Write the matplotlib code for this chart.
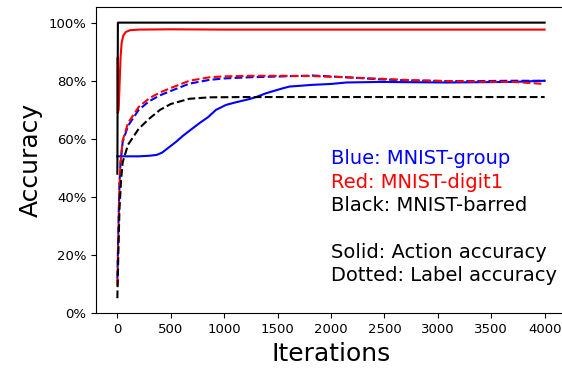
import matplotlib
matplotlib.use("Agg")
import matplotlib.pyplot as plt
from matplotlib.ticker import PercentFormatter

# solid = action accuracy, dashed = label accuracy
group_act_it = [0, 5, 100, 200, 300, 370, 420, 490, 550, 612, 700, 768, 850, 924, 1018,
                1100, 1236, 1300, 1392, 1548, 1611, 1830, 2000, 2142, 2454, 2750, 3079,
                3400, 3704, 4000]
group_act = [0.54, 0.54, 0.54, 0.54, 0.542, 0.545, 0.553, 0.573, 0.59, 0.61, 0.635, 0.654,
             0.675, 0.70, 0.717, 0.725, 0.737, 0.744, 0.757, 0.774, 0.78, 0.786, 0.789,
             0.794, 0.796, 0.795, 0.794, 0.795, 0.796, 0.80]

digit_act_it = [0, 3, 12, 20, 30, 40, 55, 80, 120, 200, 500, 1000, 2000, 3000, 4000]
digit_act = [0.877, 0.69, 0.70, 0.78, 0.88, 0.93, 0.955, 0.968, 0.974, 0.976, 0.977,
             0.976, 0.976, 0.976, 0.976]

barred_act_it = [0, 5, 4000]
barred_act = [0.48, 1.0, 1.0]

group_lab_it = [0, 10, 20, 30, 50, 100, 200, 300, 400, 500, 674, 862, 1000, 1236, 1546,
                1830, 2142, 2454, 2750, 3079, 3400, 3704, 4000]
group_lab = [0.12, 0.30, 0.45, 0.52, 0.59, 0.645, 0.70, 0.73, 0.75, 0.765, 0.79, 0.803,
             0.808, 0.812, 0.815, 0.818, 0.812, 0.805, 0.801, 0.799, 0.799, 0.80, 0.80]

digit_lab_it = [0, 10, 20, 30, 50, 100, 200, 300, 400, 500, 674, 862, 1000, 1236, 1546,
                1830, 2142, 2454, 2750, 3079, 3400, 3704, 4000]
digit_lab = [0.095, 0.28, 0.44, 0.52, 0.595, 0.655, 0.71, 0.74, 0.76, 0.775, 0.80, 0.812,
             0.815, 0.817, 0.817, 0.816, 0.812, 0.807, 0.802, 0.799, 0.797, 0.796, 0.789]

barred_lab_it = [0, 10, 20, 35, 50, 100, 200, 300, 400, 500, 674, 862, 1200, 2000, 3000, 4000]
barred_lab = [0.052, 0.22, 0.36, 0.46, 0.52, 0.58, 0.635, 0.67, 0.70, 0.72, 0.738, 0.743,
              0.744, 0.744, 0.744, 0.744]

notes = ["Blue: MNIST-group", "Red: MNIST-digit1", "Black: MNIST-barred",
         "Solid: Action accuracy", "Dotted: Label accuracy"]
note_colors = ["blue", "red", "black", "black", "black"]
note_y = [0.513, 0.432, 0.352, 0.191, 0.111]

fig = plt.figure(figsize=(5.62, 3.69), dpi=100)
ax = fig.add_axes([0.1708, 0.151, 0.8363, 0.831])

ax.plot(group_act_it, group_act, color="b")
ax.plot(digit_act_it, digit_act, color="r")
ax.plot(barred_act_it, barred_act, color="k")
ax.plot(group_lab_it, group_lab, "--", color="b")
ax.plot(digit_lab_it, digit_lab, "--", color="r")
ax.plot(barred_lab_it, barred_lab, "--", color="k")

for txt, c, y in zip(notes, note_colors, note_y):
    ax.text(2000, y, txt, color=c, fontsize=14, va="baseline")

ax.set_xlim(-200, 4200)
ax.set_ylim(0, 1.055)
ax.set_xticks(range(0, 4001, 500))
ax.set_yticks([0, 0.2, 0.4, 0.6, 0.8, 1.0])
ax.yaxis.set_major_formatter(PercentFormatter(1.0, decimals=0))
ax.tick_params(labelsize=9.5)
ax.spines["right"].set_visible(False)  # cropped off in the original image
ax.set_xlabel("Iterations", fontsize=18)
ax.set_ylabel("Accuracy", fontsize=18)

fig.savefig("out.png", dpi=100)
